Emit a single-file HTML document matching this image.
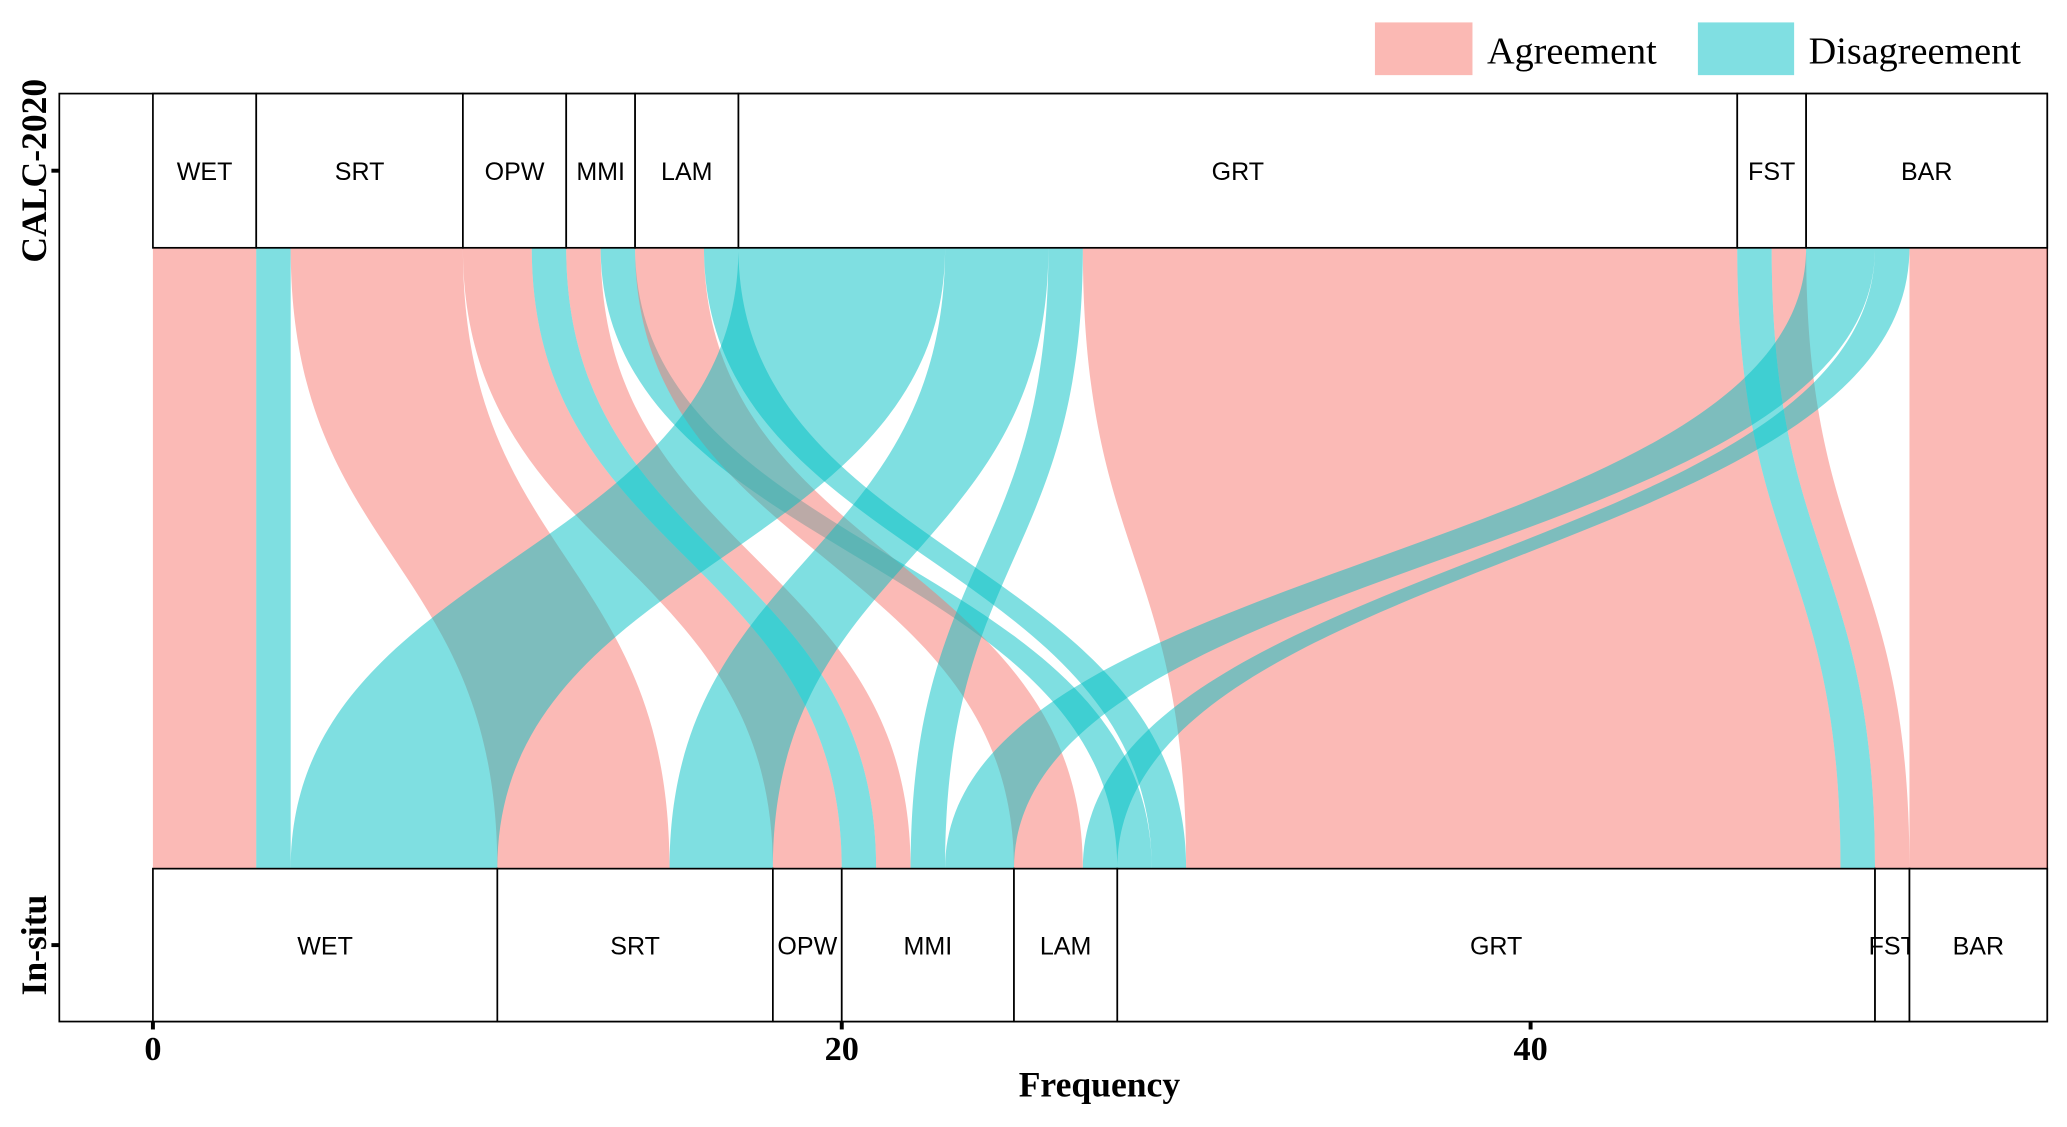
<!DOCTYPE html>
<html><head><meta charset="utf-8"><style>
html,body{margin:0;padding:0;background:#fff;}
svg{display:block;}
</style></head><body>
<svg id="chart" width="2067" height="1127" viewBox="0 0 1568 855" preserveAspectRatio="none" xmlns="http://www.w3.org/2000/svg">
<g>
<rect x="1043" y="17" width="74" height="40" fill="#FBB9B4"/>
<text x="1128" y="48" font-family="Liberation Serif, serif" font-size="29">Agreement</text>
<rect x="1288" y="17" width="73" height="40" fill="#80DFE2"/>
<text x="1372" y="48" font-family="Liberation Serif, serif" font-size="29">Disagreement</text>
</g>
<rect x="45" y="71" width="1508" height="704" fill="none" stroke="#000" stroke-width="1.3"/>
<g id="flows"></g>
<g id="strata"></g>
<g id="axes"></g>
<text x="834" y="832" text-anchor="middle" font-family="Liberation Serif, serif" font-weight="bold" font-size="27">Frequency</text>
</svg>
<script>
const strata = ["WET","SRT","OPW","MMI","LAM","GRT","FST","BAR"];
const flowFrom = ["WET","SRT","SRT","OPW","OPW","MMI","MMI","LAM","LAM","GRT","GRT","GRT","GRT","FST","FST","BAR","BAR","BAR"];
const flowTo   = ["WET","WET","SRT","OPW","MMI","MMI","GRT","LAM","GRT","WET","SRT","MMI","GRT","GRT","FST","MMI","LAM","BAR"];
const flowCount= [3,1,5,2,1,1,1,2,1,6,3,1,19,1,1,2,1,4];
const xTicks = [0,20,40];
const axisNames = ["CALC-2020","In-situ"];

const NS="http://www.w3.org/2000/svg";
const X0=116, UNIT=(1553-116)/55;
const sx=v=>X0+v*UNIT;
const TOP_Y0=71, TOP_Y1=188, BOT_Y0=659, BOT_Y1=775;
function mk(tag,attrs,parent){const e=document.createElementNS(NS,tag);for(const k in attrs)e.setAttribute(k,attrs[k]);parent.appendChild(e);return e;}

const idx=s=>strata.indexOf(s);
const n=flowCount.length;
const topOrder=[...Array(n).keys()].sort((a,b)=>idx(flowFrom[a])-idx(flowFrom[b])||idx(flowTo[a])-idx(flowTo[b]));
const botOrder=[...Array(n).keys()].sort((a,b)=>idx(flowTo[a])-idx(flowTo[b])||idx(flowFrom[a])-idx(flowFrom[b]));
const topStart=[],botStart=[];
let acc=0;topOrder.forEach(i=>{topStart[i]=acc;acc+=flowCount[i];});
acc=0;botOrder.forEach(i=>{botStart[i]=acc;acc+=flowCount[i];});

const fg=document.getElementById('flows');
const mid=(TOP_Y1+BOT_Y0)/2;
for(let i=0;i<n;i++){
  const a0=sx(topStart[i]),a1=sx(topStart[i]+flowCount[i]);
  const b0=sx(botStart[i]),b1=sx(botStart[i]+flowCount[i]);
  const agree=flowFrom[i]===flowTo[i];
  const d=`M${a0},${TOP_Y1} C${a0},${mid} ${b0},${mid} ${b0},${BOT_Y0} L${b1},${BOT_Y0} C${b1},${mid} ${a1},${mid} ${a1},${TOP_Y1} Z`;
  const p=mk('path',{d:d,fill:agree?'#F8766D':'#00BFC4','fill-opacity':'0.5'},fg);
  
  
}

const sg=document.getElementById('strata');
function drawStrata(totals,y0,y1,label){
  let c=0;
  strata.forEach(s=>{
    const v=totals[s]||0; if(!v) return;
    const r=mk('rect',{x:sx(c),y:y0,width:v*UNIT,height:y1-y0,fill:'#fff',stroke:'#000','stroke-width':1.3},sg);
    
    
    const t=mk('text',{x:sx(c+v/2),y:(y0+y1)/2+7,'text-anchor':'middle','font-family':'Liberation Sans, sans-serif','font-size':19},sg);
    t.textContent=s;
    
    
    c+=v;
  });
}
const topTot={},botTot={};
for(let i=0;i<n;i++){topTot[flowFrom[i]]=(topTot[flowFrom[i]]||0)+flowCount[i];botTot[flowTo[i]]=(botTot[flowTo[i]]||0)+flowCount[i];}
drawStrata(topTot,TOP_Y0,TOP_Y1,'top');
drawStrata(botTot,BOT_Y0,BOT_Y1,'bottom');

const ag=document.getElementById('axes');
xTicks.forEach(v=>{
  const l=mk('line',{x1:sx(v),x2:sx(v),y1:775,y2:781,stroke:'#000','stroke-width':3},ag);
  
  
  const t=mk('text',{x:sx(v),y:804,'text-anchor':'middle','font-family':'Liberation Serif, serif','font-weight':'bold','font-size':26},ag);
  t.textContent=v;
  
  
});
const ys=[(TOP_Y0+TOP_Y1)/2,(BOT_Y0+BOT_Y1)/2];
axisNames.forEach((nm,k)=>{
  const l=mk('line',{x1:39,x2:45,y1:ys[k],y2:ys[k],stroke:'#000','stroke-width':3},ag);
  
  
  const t=mk('text',{x:0,y:0,transform:`translate(35,${ys[k]}) rotate(-90)`,'text-anchor':'middle','font-family':'Liberation Serif, serif','font-weight':'bold','font-size':27},ag);
  t.textContent=nm;
  
  
});
</script>
</body></html>
